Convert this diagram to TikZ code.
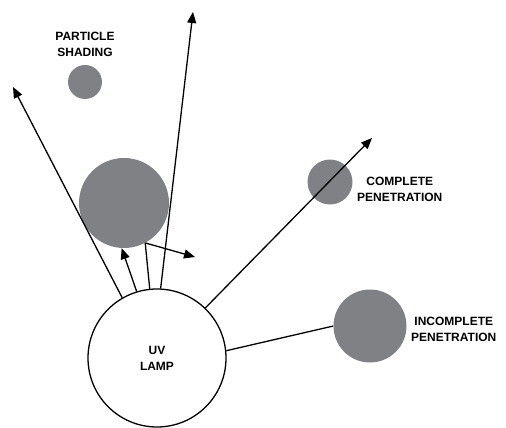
\documentclass[tikz,border=0pt]{standalone}
\usepackage{fontspec}
\setmainfont{Liberation Sans}
\usetikzlibrary{positioning,arrows.meta}
\definecolor{partgray}{RGB}{128,129,133}

\begin{document}
\begin{tikzpicture}[
    x=1pt, y=-1pt,
    every node/.style={font=\bfseries\fontsize{12}{16}\selectfont},
    arr/.style={-{Triangle[length=11pt,width=9pt]}, line width=1.3pt},
    ray/.style={line width=1.3pt},
    particle/.style={circle, fill=partgray, inner sep=0pt},
]
    \useasboundingbox (0,0) rectangle (506,428);
    % particles
    \node[particle, minimum size=34pt] (shadep) at (85,82) {};
    \node[particle, minimum size=90pt] (bigp) at (124,203) {};
    \node[particle, minimum size=45pt] (compp) at (330,182) {};
    \node[particle, minimum size=73pt] (incp) at (370,326) {};
    \node[circle, draw, line width=1.3pt, fill=white,
          minimum size=138pt, align=center] (lamp) at (157,358)
        {UV\\LAMP};
    % labels
    \node[align=center, above=5pt of shadep] (shadetxt) {PARTICLE\\SHADING};
    \node[align=center, right=1pt of compp, yshift=-7pt] (comptxt) {COMPLETE\\PENETRATION};
    \node[align=center, right=1pt of incp, yshift=-3pt] (inctxt) {INCOMPLETE\\PENETRATION};
    % free ends of the rays
    \coordinate (lefttip) at (13,87);
    \coordinate (toptip) at (193,12);
    \coordinate (comptip) at (372,138);
    \coordinate (refltip) at (195,257);
    % rays
    \draw[arr] (lamp.120) -- (lefttip);
    \draw[arr] (lamp.87) -- (toptip);
    \draw[arr] (lamp.107) -- (bigp.267);
    \draw[ray] (lamp.96) -- (bigp.298);
    \draw[arr] (bigp.298) -- (refltip);
    \draw[arr] (lamp.46) -- (comptip);
    \draw[ray] (lamp.6) -- (incp.west);
\end{tikzpicture}
\end{document}
